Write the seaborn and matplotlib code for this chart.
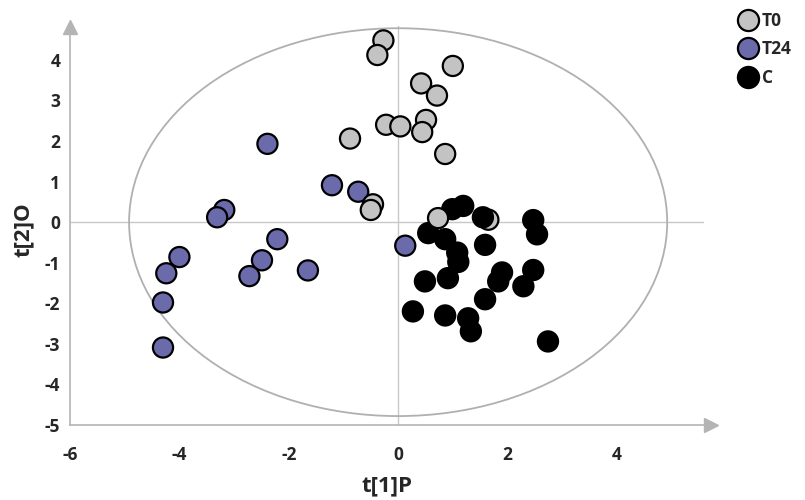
import matplotlib
matplotlib.use("Agg")
import matplotlib.pyplot as plt
from matplotlib.patches import Ellipse
from matplotlib.ticker import MultipleLocator
from matplotlib.transforms import offset_copy
import pandas as pd
import seaborn as sns

# score values
t0_x = [1.65, -0.27, -0.38, 1.00, 0.42, 0.71, -0.22, 0.04, 0.51, 0.44, -0.88, 0.86, -0.46, -0.50, 0.73]
t0_y = [0.06, 4.48, 4.12, 3.85, 3.42, 3.12, 2.40, 2.36, 2.52, 2.22, 2.06, 1.68, 0.44, 0.30, 0.10]

t24_x = [-2.39, -1.21, -0.73, -3.18, -3.31, -2.21, 0.13, -2.49, -1.65, -2.72, -4.00, -4.24, -4.30, -4.30]
t24_y = [1.93, 0.91, 0.75, 0.30, 0.12, -0.42, -0.58, -0.94, -1.19, -1.33, -0.86, -1.26, -1.98, -3.09]

c_x = [0.99, 1.19, 1.55, 2.47, 2.54, 0.55, 0.86, 1.59, 1.08, 1.10, 1.90, 2.47, 0.49, 0.91,
       1.83, 2.29, 1.59, 0.27, 0.86, 1.28, 1.33, 2.74]
c_y = [0.32, 0.40, 0.12, 0.05, -0.30, -0.27, -0.42, -0.56, -0.75, -0.98, -1.24, -1.18, -1.46, -1.38,
       -1.46, -1.58, -1.90, -2.20, -2.30, -2.37, -2.69, -2.94]

groups = ["T0", "T24", "C"]
colors = {"T0": "#c3c3c3", "T24": "#6b6bab", "C": "#000000"}
x_ticks = [-6, -4, -2, 0, 2, 4]
y_ticks = [-5, -4, -3, -2, -1, 0, 1, 2, 3, 4]

# first T0 sample sits behind a C point, the rest are drawn on top
df = pd.concat([
    pd.DataFrame({"x": t0_x[:1], "y": t0_y[:1], "group": "T0"}),
    pd.DataFrame({"x": t24_x, "y": t24_y, "group": "T24"}),
    pd.DataFrame({"x": c_x, "y": c_y, "group": "C"}),
    pd.DataFrame({"x": t0_x[1:], "y": t0_y[1:], "group": "T0"}),
], ignore_index=True)

sns.set_style("white")
plt.rcParams["font.family"] = ["Open Sans", "DejaVu Sans"]
plt.rcParams["axes.unicode_minus"] = False
axis_grey = "#b4b4b4"

fig = plt.figure(figsize=(8.05, 5.0), dpi=100)
ax = fig.add_axes([0.087, 0.15, 0.788, 0.783])

ax.axhline(0, color="#c8c8c8", lw=1, zorder=0)
ax.axvline(0, ymax=1.02, color="#c8c8c8", lw=1, zorder=0, clip_on=False)
ax.add_patch(Ellipse((0, 0), width=2 * 4.92, height=2 * 4.78, fill=False,
                     edgecolor="#b0b0b0", lw=1.3, zorder=0, clip_on=False))

sns.scatterplot(data=df, x="x", y="y", hue="group", hue_order=groups, palette=colors,
                s=210, edgecolor="black", linewidth=1.6, ax=ax, zorder=3, clip_on=False)

ax.set_xlim(-6, 5.6)
ax.set_ylim(-5, 4.65)
ax.set_xticks(x_ticks)
ax.set_yticks(y_ticks)
ax.xaxis.set_minor_locator(MultipleLocator(1))
ax.yaxis.set_minor_locator(MultipleLocator(0.5))
ax.tick_params(which="both", direction="out", color=axis_grey, labelsize=12.5)
ax.tick_params(which="major", length=4, width=1)
ax.tick_params(which="minor", length=2.5, width=1)
ax.tick_params(axis="x", pad=11)
ax.tick_params(axis="y", pad=3)
for lab in ax.get_xticklabels() + ax.get_yticklabels():
    lab.set_fontweight("bold")

for side in ["top", "right"]:
    ax.spines[side].set_visible(False)
for side in ["left", "bottom"]:
    ax.spines[side].set_color(axis_grey)
    ax.spines[side].set_linewidth(1.2)
# arrow heads at the axis ends
ax.plot(1, 0, ">", color=axis_grey, ms=10, clip_on=False,
        transform=offset_copy(ax.transAxes, fig=fig, x=5, y=0, units="points"))
ax.plot(0, 1, "^", color=axis_grey, ms=10, clip_on=False,
        transform=offset_copy(ax.transAxes, fig=fig, x=0, y=5, units="points"))

ax.set_xlabel("t[1]P", fontsize=16, fontweight="bold", labelpad=8)
ax.set_ylabel("t[2]O", fontsize=16, fontweight="bold", labelpad=8)

handles, labels = ax.get_legend_handles_labels()
ax.legend(handles, labels, loc="upper left", bbox_to_anchor=(0.91, 0.99),
          bbox_transform=fig.transFigure, frameon=False, handlelength=1.0,
          handletextpad=0.3, labelspacing=0.6, prop={"weight": "bold", "size": 12.5},
          borderaxespad=0, markerscale=1.05)

fig.savefig("out.png", dpi=100)
